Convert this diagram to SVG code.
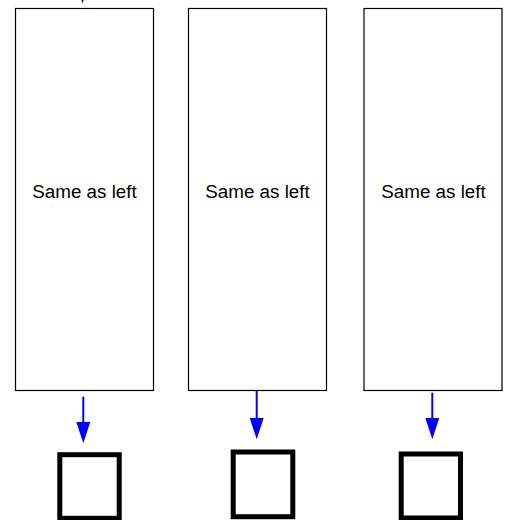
<svg xmlns="http://www.w3.org/2000/svg" width="509" height="520" viewBox="0 0 509 520">
<style>
.box{fill:#fff;stroke:#000;stroke-width:1.2}
.sq{fill:#fff;stroke:#000;stroke-width:5}
.lbl{font-family:"Liberation Sans",Arial,sans-serif;font-size:18.8px;fill:#000;text-anchor:middle}
.conn line{stroke:#0000ff;stroke-width:2}
.conn polygon{fill:#0000ff}
</style>
<rect width="509" height="520" fill="#fff"/>
<g id="node-left">
<rect class="box" x="15.5" y="8.5" width="138" height="382"/>
<text class="lbl" x="84.5" y="197.5">Same as left</text>
</g>
<g id="node-middle">
<rect class="box" x="188.5" y="8.5" width="138" height="382"/>
<text class="lbl" x="257.5" y="197.5">Same as left</text>
</g>
<g id="node-right">
<rect class="box" x="364" y="8.5" width="138" height="382"/>
<text class="lbl" x="433.5" y="197.5">Same as left</text>
</g>
<g id="square-left"><rect class="sq" x="59.8" y="454.7" width="59.4" height="63.6"/></g>
<g id="square-middle"><rect class="sq" x="233.2" y="452" width="59.6" height="64.7"/></g>
<g id="square-right"><rect class="sq" x="401.2" y="454" width="59.3" height="64"/></g>
<g id="connectors" class="conn">
<polygon points="75.5,-18 89.5,-18 82.5,3.5"/>
<line x1="83.3" y1="396.7" x2="83.3" y2="424"/>
<polygon points="76.3,422 90.3,422 83.3,443.3"/>
<line x1="256.7" y1="391" x2="256.7" y2="420"/>
<polygon points="249.7,418 263.7,418 256.7,439.3"/>
<line x1="432.3" y1="392.7" x2="432.3" y2="420"/>
<polygon points="425.3,418 439.3,418 432.3,439.3"/>
</g>
</svg>
